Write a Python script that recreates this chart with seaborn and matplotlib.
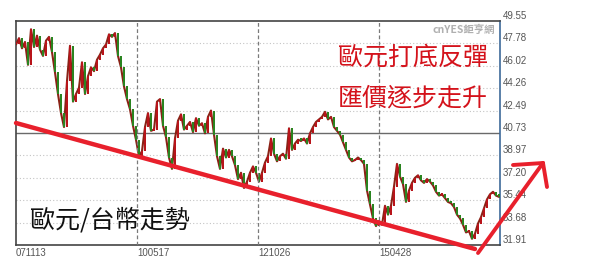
import numpy as np
import pandas as pd
import matplotlib
matplotlib.use("Agg")
import matplotlib.pyplot as plt
import seaborn as sns
from matplotlib.lines import Line2D

# ---- data (EUR/TWD, ~3-week steps) ----
closes = [
    47.7, 48.2, 47.4, 47.9, 46.1, 48.9, 47.5, 48.4, 47.3, 46.8,
    48.0, 48.3, 47.1, 45.5, 43.8, 42.3, 41.2, 44.8, 47.6, 43.2,
    43.8, 44.3, 46.3, 43.8, 45.2, 45.9, 45.6, 46.5, 46.9, 47.4,
    47.7, 48.5, 48.3, 48.6, 46.8, 45.9, 44.4, 43.4, 42.6, 41.3,
    40.2, 38.9, 39.3, 41.2, 42.3, 40.9, 41.0, 43.2, 43.4, 41.3,
    40.4, 38.8, 37.9, 40.3, 41.7, 42.2, 41.0, 41.3, 41.6, 40.8,
    41.9, 41.3, 41.5, 40.7, 42.0, 42.5, 40.6, 38.9, 37.9, 39.5,
    38.8, 39.4, 38.9, 38.2, 37.1, 37.6, 36.4, 36.9, 37.6, 38.1,
    37.6, 36.9, 37.6, 38.4, 38.9, 40.3, 39.1, 38.5, 38.9, 39.1,
    38.7, 41.1, 39.4, 39.9, 40.2, 40.1, 40.3, 39.9, 40.7, 41.2,
    41.6, 41.8, 42.0, 42.4, 41.8, 42.0, 41.2, 40.9, 40.6, 40.0,
    39.4, 38.8, 38.5, 38.6, 38.8, 38.6, 38.3, 36.2, 35.1, 34.0,
    33.4, 33.8, 33.5, 35.0, 34.3, 35.0, 36.5, 38.3, 37.3, 36.7,
    35.3, 36.2, 36.8, 37.2, 37.4, 37.0, 36.8, 37.1, 36.9, 36.6,
    36.1, 35.8, 35.9, 35.6, 35.3, 35.2, 34.9, 34.3, 34.0, 33.5,
    32.9, 33.0, 32.4, 32.8, 33.6, 34.1, 34.8, 35.5, 35.9, 36.1,
    35.8, 35.7,
]
y_tick_values = [31.91, 33.68, 35.44, 37.20, 38.97, 40.73, 42.49, 44.26, 46.02, 47.78, 49.55]
x_tick_labels = ["071113", "100517", "121026", "150428"]
bars_per_label = 121 / 3.0

title_text = "歐元/台幣走勢"
note_lines = ["歐元打底反彈", "匯價逐步走升"]
watermark = "cnYES鉅亨網"

# ---- style ----
sns.set_theme(style="white")
plt.rcParams["font.family"] = ["Noto Sans CJK TC", "DejaVu Sans"]

UP = "#b8141a"
DOWN = "#2a8420"
RED = "#e8202c"

df = pd.DataFrame({"bar": np.arange(len(closes)), "close": closes})
df["open"] = df["close"].shift(1).fillna(df["close"])
df["low"] = df[["open", "close"]].min(axis=1)
df["body"] = (df["close"] - df["open"]).abs().clip(lower=0.2)
df["dir"] = np.where(df["close"] >= df["open"], "up", "down")

fig = plt.figure(figsize=(6.0, 2.64), dpi=100)
ax = fig.add_axes([16 / 600, 19 / 264, 484 / 600, 224 / 264])

# connecting line (seaborn) + candle bodies
sns.lineplot(data=df, x="bar", y="close", ax=ax, color="#8a2216",
             linewidth=1.5, zorder=3, legend=False)
ax.bar(df["bar"], df["body"], bottom=df["low"], width=0.9,
       color=[UP if d == "up" else DOWN for d in df["dir"]],
       linewidth=0, zorder=4)

ax.set_xlim(0, 484 / 3.0)
ax.set_ylim(y_tick_values[0], y_tick_values[-1])

# ticks
xt = [k * bars_per_label for k in range(len(x_tick_labels))]
ax.set_xticks(xt)
ax.set_xticklabels(x_tick_labels, family="Liberation Sans", fontsize=7,
                   color="#555555", ha="left")
ax.yaxis.tick_right()
ax.set_yticks(y_tick_values)
ax.set_yticklabels([f"{v:.2f}" for v in y_tick_values], family="Liberation Sans",
                   fontsize=7, color="#555555", va="bottom")
ax.tick_params(axis="both", length=0, pad=2)
ax.set_xlabel("")
ax.set_ylabel("")

# grid
for v in y_tick_values[1:-1]:
    if abs(v - 40.73) < 1e-6:
        ax.axhline(v, color="#6a6a6a", lw=1.0, zorder=2)
    else:
        ax.axhline(v, color="#c4c4c4", lw=0.8, ls=(0, (1, 2)), zorder=1)
for x in xt[1:]:
    ax.axvline(x, color="#7a7a7a", lw=0.9, ls=(0, (3, 2)), zorder=5)

for s in ["left", "top", "bottom"]:
    ax.spines[s].set_color("#444444")
    ax.spines[s].set_linewidth(1.2)
ax.spines["right"].set_color("#3d6a99")
ax.spines["right"].set_linewidth(1.2)

# ---- annotations (figure pixel coords) ----
def fx(px):
    return px / 600.0

def fy(py):
    return 1 - py / 264.0

fig.text(fx(495), fy(30), watermark, ha="right", va="center", fontsize=7.5,
         color="#b0b0b0", fontweight="bold")
fig.text(fx(413), fy(58), note_lines[0], ha="center", va="center",
         fontsize=18, color="#d4121b", fontweight="medium")
fig.text(fx(413), fy(98), note_lines[1], ha="center", va="center",
         fontsize=18, color="#d4121b", fontweight="medium")
fig.text(fx(30), fy(220), title_text, ha="left", va="center",
         fontsize=18, color="#111111", fontweight="medium", zorder=3)

def seg(p0, p1, lw=3.2):
    fig.add_artist(Line2D([fx(p0[0]), fx(p1[0])], [fy(p0[1]), fy(p1[1])],
                          transform=fig.transFigure, color=RED, lw=lw,
                          solid_capstyle="round", zorder=10))

seg((16, 123), (475, 249))
seg((478, 253), (543, 163), lw=2.8)
seg((513, 165), (543, 163), lw=2.8)
seg((543, 163), (547, 187), lw=2.8)

fig.savefig("out.png", dpi=100, facecolor="white")
